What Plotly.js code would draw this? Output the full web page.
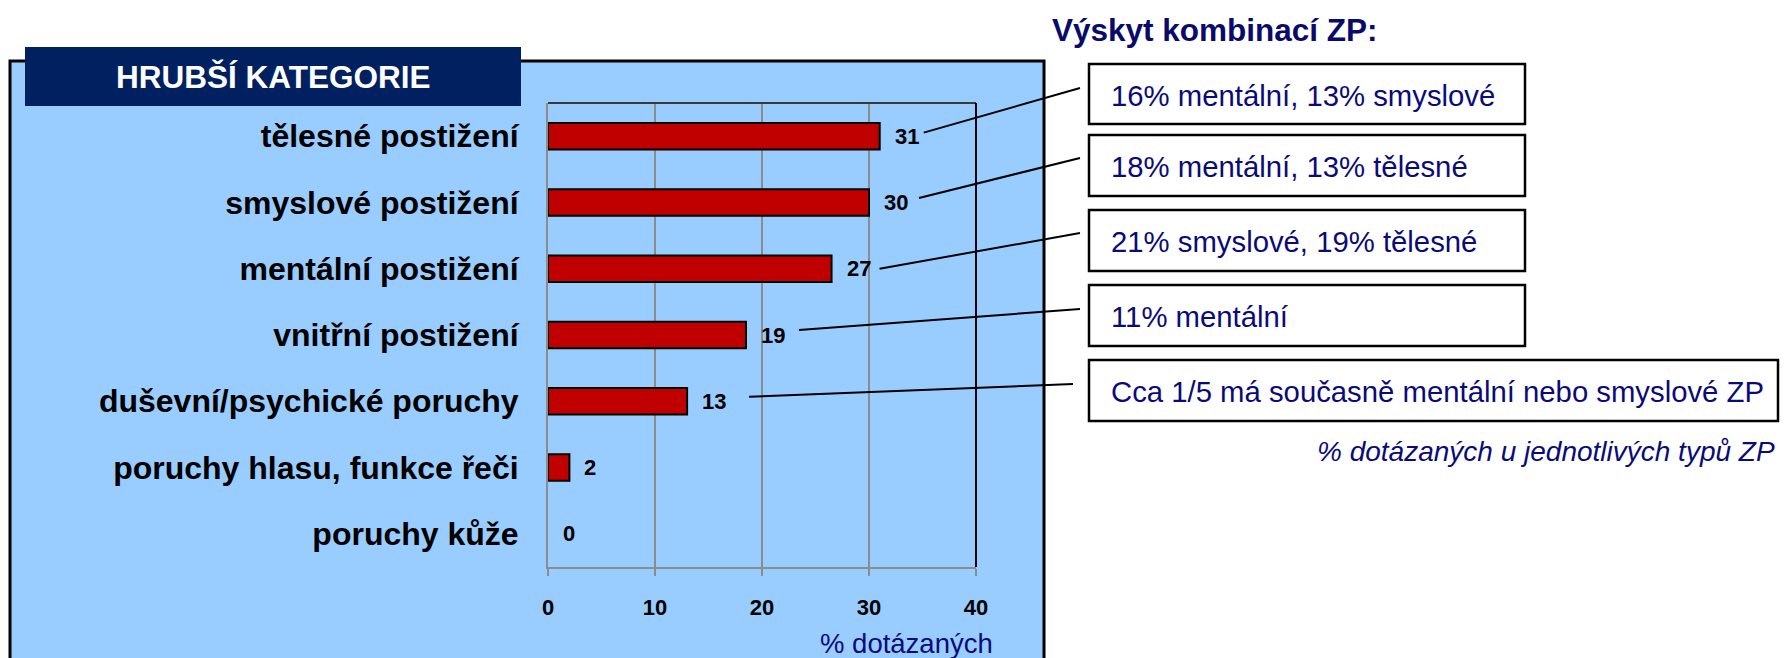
<!DOCTYPE html>
<html><head><meta charset="utf-8">
<script src="https://cdn.plot.ly/plotly-3.0.1.min.js"></script>
<style>html,body{margin:0;padding:0;background:#fff;overflow:hidden;} #chart{width:1787px;height:658px;}</style>
</head><body><div id="chart"></div>
<script>
// ---- data ----
const categories = ['tělesné postižení','smyslové postižení','mentální postižení','vnitřní postižení','duševní/psychické poruchy','poruchy hlasu, funkce řeči','poruchy kůže'];
const values = [31, 30, 26.5, 18.5, 13, 2, 0];
const valueLabels = ['31','30','27','19','13','2','0'];
const xTicks = [0, 10, 20, 30, 40];
const comboTexts = ['16% mentální, 13% smyslové','18% mentální, 13% tělesné','21% smyslové, 19% tělesné','11% mentální','Cca 1/5 má současně mentální nebo smyslové ZP'];
const headerText = 'HRUBŠÍ KATEGORIE';
const rightTitle = 'Výskyt kombinací ZP:';
const axisTitle = '% dotázaných';
const footnote = '% dotázaných u jednotlivých typů ZP';

// ---- layout geometry (pixels) ----
const W = 1787, H = 658, L = 548, R = 976, T = 103, B = 567;
const pw = R - L, ph = B - T;
const px = x => (x - L) / pw;
const py = y => (B - y) / ph;
const xmax = 40;
const dataX = v => L + v / xmax * pw;
const catY = i => T + (i + 0.5) * ph / categories.length;

const FONT = 'Liberation Sans, Arial, sans-serif';
const NAVY = '#0B0B78';

const boxes = [[1089,64,1525,124],[1089,135,1525,196],[1089,210,1525,271],[1089,285,1525,346],[1089,360,1778,421]];
const connStartDx = [44, 50, 48, 53, 62];
const connStartDy = [-3.5, -4.5, 0, -5, -4.5];
const connEnd = [[1080,88],[1080,158],[1080,233],[1080,309],[1073,384]];

const shapes = [];
// blue panel
shapes.push({type:'rect', xref:'paper', yref:'paper', layer:'below',
  x0:px(10), x1:px(1044), y0:py(700), y1:py(61),
  fillcolor:'#99CCFF', line:{color:'#000', width:3}});
// header box
shapes.push({type:'rect', xref:'paper', yref:'paper', layer:'below',
  x0:px(25), x1:px(521), y0:py(106), y1:py(47),
  fillcolor:'#002060', line:{width:0}});
// plot frame top/right
shapes.push({type:'line', xref:'paper', yref:'paper', x0:0, x1:1, y0:1, y1:1, line:{color:'#3a3a3a', width:2}});
shapes.push({type:'line', xref:'paper', yref:'paper', x0:1, x1:1, y0:0, y1:1, line:{color:'#000', width:2}});
// combination boxes
boxes.forEach(b => shapes.push({type:'rect', xref:'paper', yref:'paper',
  x0:px(b[0]), x1:px(b[2]), y0:py(b[3]), y1:py(b[1]),
  fillcolor:'#fff', line:{color:'#000', width:2.5}}));
// connectors
for (let i = 0; i < comboTexts.length; i++) {
  const sx = dataX(values[i]) + connStartDx[i];
  const sy = catY(i) + connStartDy[i];
  shapes.push({type:'line', xref:'paper', yref:'paper',
    x0:px(sx), y0:py(sy), x1:px(connEnd[i][0]), y1:py(connEnd[i][1]),
    line:{color:'#000', width:2}});
}

const annotations = [];
annotations.push({xref:'paper', yref:'paper', x:px(273), y:py(77), text:headerText, showarrow:false,
  xanchor:'center', yanchor:'middle', font:{family:FONT, size:31.5, color:'#fff', weight:'bold'}});
annotations.push({xref:'paper', yref:'paper', x:px(1050), y:py(30), text:rightTitle, showarrow:false,
  xanchor:'left', yanchor:'middle', font:{family:FONT, size:31.5, color:'#0A0A6A', weight:'bold'}});
boxes.forEach((b, i) => annotations.push({xref:'paper', yref:'paper', x:px(b[0] + 20), y:py((b[1] + b[3]) / 2 + 1),
  text:comboTexts[i], showarrow:false, xanchor:'left', yanchor:'middle',
  font:{family:FONT, size:29.3, color:NAVY}}));
annotations.push({xref:'paper', yref:'paper', x:px(1777), y:py(451), text:'<i>' + footnote + '</i>', showarrow:false,
  xanchor:'right', yanchor:'middle', font:{family:FONT, size:28, color:NAVY}});
annotations.push({xref:'paper', yref:'paper', x:px(995), y:py(643), text:axisTitle, showarrow:false,
  xanchor:'right', yanchor:'middle', font:{family:FONT, size:27.5, color:NAVY}});
values.forEach((v, i) => annotations.push({xref:'x', yref:'y', x:v, y:categories[i], text:valueLabels[i],
  showarrow:false, xanchor:'left', yanchor:'middle', xshift:13,
  font:{family:FONT, size:22, color:'#000', weight:'bold'}}));

const trace = {
  type:'bar', orientation:'h', x:values, y:categories,
  marker:{color:'#C00000', line:{color:'#000', width:values.map(v => v > 0 ? 2 : 0)}},
  hoverinfo:'none', cliponaxis:false
};

const layout = {
  width:W, height:H,
  margin:{l:L, r:W - R, t:T, b:H - B, pad:0},
  paper_bgcolor:'#fff', plot_bgcolor:'rgba(0,0,0,0)',
  showlegend:false, bargap:0.6,
  font:{family:FONT},
  xaxis:{range:[0, xmax], tickmode:'array', tickvals:xTicks, ticktext:xTicks.map(String),
    showgrid:true, gridcolor:'#8C8C8C', gridwidth:2, zeroline:false,
    showline:true, linecolor:'#8C8C8C', linewidth:2,
    ticks:'outside', ticklen:7, tickwidth:2, tickcolor:'#8C8C8C', ticklabelstandoff:13,
    tickfont:{family:FONT, size:22, color:'#000', weight:'bold'}, automargin:false, fixedrange:true},
  yaxis:{type:'category', categoryorder:'array', categoryarray:categories, autorange:'reversed',
    showgrid:false, zeroline:false, showline:true, linecolor:'#8C8C8C', linewidth:2,
    ticks:'', ticklabelstandoff:21,
    tickfont:{family:FONT, size:32, color:'#000', weight:'bold'}, automargin:false, fixedrange:true},
  shapes:shapes, annotations:annotations
};

Plotly.newPlot('chart', [trace], layout, {staticPlot:true, displayModeBar:false});
</script>
</body></html>
